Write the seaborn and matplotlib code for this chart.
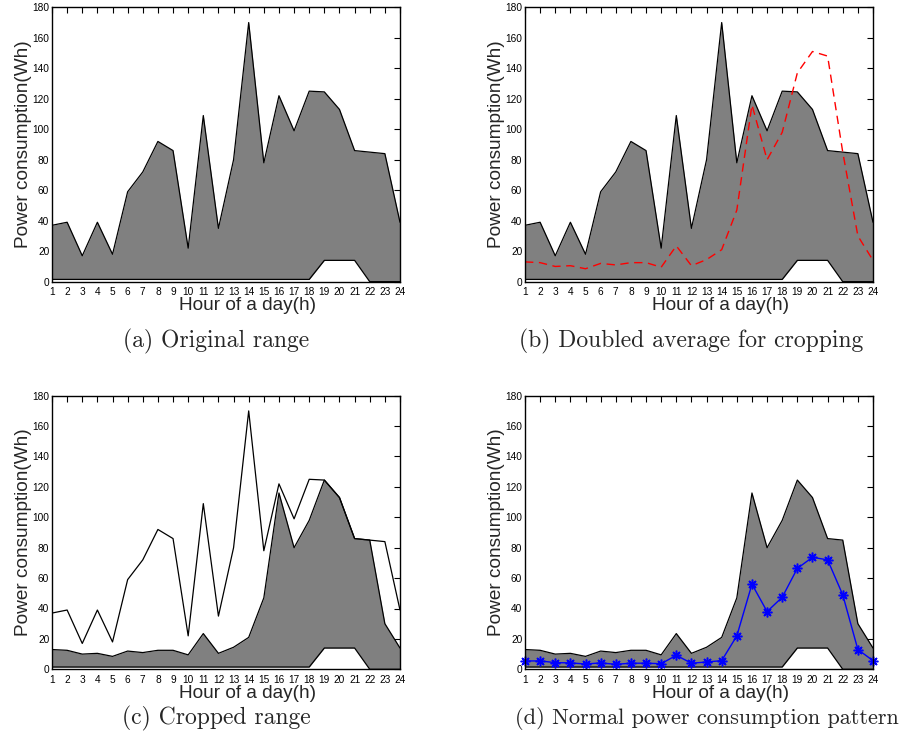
import numpy as np
import pandas as pd
import matplotlib
matplotlib.use("Agg")
import matplotlib.pyplot as plt
import seaborn as sns

hours = list(range(1, 25))
upper = [37, 39, 17, 39, 18, 59, 72, 92, 86, 22, 109, 35, 80, 170, 78, 122, 99, 125, 124.5, 113, 86, 85, 84, 39]
lower = [1.5] * 18 + [14, 14, 14, 0, 0, 0]
doubled_avg = [13, 12.5, 10, 10.5, 8.5, 12, 11, 12.5, 12.5, 9.5, 23.5, 10.5, 14.5, 21, 47, 116, 80, 98, 137, 151, 148, 85, 30, 14]
normal = [5.5, 5.5, 4.4, 4.2, 3.5, 4.2, 3.3, 4, 4, 3.7, 9.2, 4, 4.8, 5.7, 22, 56, 38, 47.4, 66.4, 73.7, 72, 49, 13, 5.7]
captions = ["(a) Original range", "(b) Doubled average for cropping",
            "(c) Cropped range", "(d) Normal power consumption pattern"]
yticks = list(range(0, 181, 20))

sns.set_theme(style="white")
plt.rcParams['font.family'] = ['Liberation Sans', 'DejaVu Sans']

df = pd.DataFrame({"hour": hours, "upper": upper, "lower": lower,
                   "avg2": doubled_avg, "normal": normal})
df["cropped"] = np.minimum(df["upper"], df["avg2"])

fig = plt.figure(figsize=(9.01, 7.47), dpi=100)
W, H = 901, 747
boxes = [(52, 7.3, 400, 281.7), (525, 7.3, 873, 281.7),
         (52, 395.7, 400, 669.3), (525, 395.7, 873, 669.3)]
axes = []
for (x0, y0, x1, y1) in boxes:
    ax = fig.add_axes([x0 / W, 1 - y1 / H, (x1 - x0) / W, (y1 - y0) / H])
    axes.append(ax)

GRAY = "#808080"

def style(ax):
    ax.set_xlim(1, 24)
    ax.set_ylim(0, 180)
    ax.set_xticks(hours)
    ax.set_yticks(yticks)
    ax.tick_params(direction="in", length=4, width=0.8, top=True, right=True,
                   labelsize=7.3, pad=2, colors="black")
    ax.tick_params(axis="x", pad=4)
    for s in ax.spines.values():
        s.set_color("black")
        s.set_linewidth(1.0)
    ax.set_xlabel("Hour of a day(h)", fontsize=13.7)
    ax.set_ylabel("Power consumption(Wh)", fontsize=13.7)
    ax.xaxis.set_label_coords(0.563, -0.056)
    ax.yaxis.set_label_coords(-0.058, 0.5)

# (a)
ax = axes[0]
ax.fill_between(df["hour"], df["lower"], df["upper"], color=GRAY, lw=0)
sns.lineplot(data=df, x="hour", y="upper", ax=ax, color="black", lw=0.9)
sns.lineplot(data=df, x="hour", y="lower", ax=ax, color="black", lw=0.9)

# (b)
ax = axes[1]
ax.fill_between(df["hour"], df["lower"], df["upper"], color=GRAY, lw=0)
sns.lineplot(data=df, x="hour", y="upper", ax=ax, color="black", lw=0.9)
sns.lineplot(data=df, x="hour", y="lower", ax=ax, color="black", lw=0.9)
sns.lineplot(data=df, x="hour", y="avg2", ax=ax, color="red", lw=1.0, dashes=False,
             linestyle=(0, (6, 4)))

# (c)
ax = axes[2]
ax.fill_between(df["hour"], df["lower"], df["cropped"], color=GRAY, lw=0)
sns.lineplot(data=df, x="hour", y="upper", ax=ax, color="black", lw=0.9)
sns.lineplot(data=df, x="hour", y="cropped", ax=ax, color="black", lw=0.9)
sns.lineplot(data=df, x="hour", y="lower", ax=ax, color="black", lw=0.9)

# (d)
ax = axes[3]
ax.fill_between(df["hour"], df["lower"], df["cropped"], color=GRAY, lw=0)
sns.lineplot(data=df, x="hour", y="cropped", ax=ax, color="black", lw=0.9)
sns.lineplot(data=df, x="hour", y="lower", ax=ax, color="black", lw=0.9)
sns.lineplot(data=df, x="hour", y="normal", ax=ax, color="blue", lw=1.0,
             marker=(8, 2, 0), markersize=7, markeredgewidth=1.1,
             markeredgecolor="blue", clip_on=False)

for ax in axes:
    style(ax)

cap_pos = [(216, 341), (691, 341), (216, 718), (707, 718)]
cap_size = [17, 17, 17, 16]
for (cx, cy), t, fs in zip(cap_pos, captions, cap_size):
    fig.text(cx / W, 1 - cy / H, t, ha="center", va="center", fontsize=fs,
             family=["cmr10", "DejaVu Serif"])

fig.savefig("out.png", dpi=100)
